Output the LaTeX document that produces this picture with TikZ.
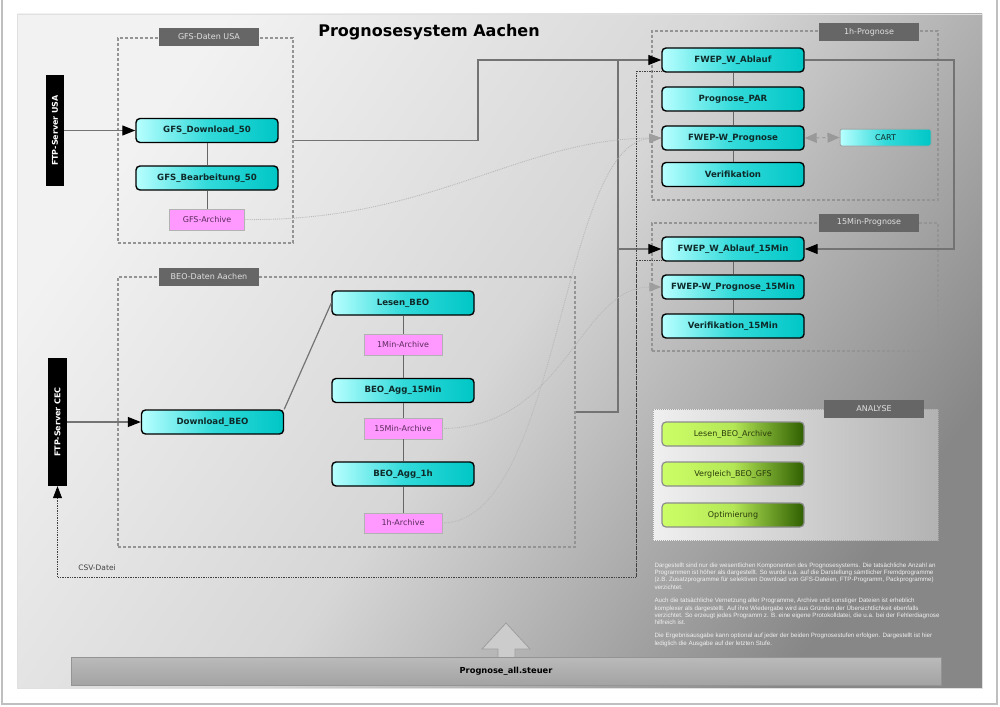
\documentclass[tikz,border=0pt]{standalone}
\usepackage{fontspec}
\setmainfont{DejaVu Sans}
\newfontfamily\notefont{Liberation Sans}
\usepackage{tikz}
\usetikzlibrary{arrows.meta}
\usetikzlibrary{positioning}
\definecolor{cyanhi}{HTML}{B8FFFF}
\definecolor{cyanmid}{HTML}{33DADA}
\definecolor{cyanlo}{HTML}{00C6C6}
\definecolor{greenhi}{HTML}{CCFF66}
\definecolor{greenlo}{HTML}{2F5F00}
\definecolor{pinkbox}{HTML}{FF99FF}
\definecolor{tabgray}{HTML}{666666}
\definecolor{progtext}{HTML}{0F2A2A}
\definecolor{archtext}{HTML}{5A2A5A}
\definecolor{anatext}{HTML}{2B3B0B}
\tikzstyle{prog}=[draw=black,line width=1.4pt,rounded corners=4pt,left color=cyanhi,right color=cyanlo,middle color=cyanmid,minimum width=142pt,minimum height=24pt,inner sep=0pt,text=progtext,font=\bfseries\fontsize{8.6}{10}\selectfont]
\tikzstyle{archive}=[draw=black!30,fill=pinkbox,minimum width=78pt,minimum height=21pt,inner sep=0pt,text=archtext,font=\fontsize{8}{9}\selectfont]
\tikzstyle{cart}=[draw=black!35,line width=1pt,rounded corners=2pt,left color=cyanhi,right color=cyanlo,middle color=cyanmid,minimum width=91pt,minimum height=17pt,inner sep=0pt,text=progtext,font=\fontsize{8}{9}\selectfont]
\tikzstyle{ana}=[draw=black!45,line width=1.2pt,rounded corners=4pt,left color=greenhi,right color=greenlo,middle color=greenhi!85!greenlo,minimum width=142pt,minimum height=24pt,inner sep=0pt,text=anatext,font=\fontsize{8}{9}\selectfont]
\tikzstyle{server}=[fill=black,inner sep=0pt,text=white,font=\bfseries\fontsize{8}{9}\selectfont]
\tikzstyle{grp}=[draw=black!42,line width=1.3pt,dash pattern=on 3pt off 2pt,inner sep=0pt]
\tikzstyle{anabox}=[draw=black!35,line width=1pt,densely dotted,left color=black!6,right color=black!30,inner sep=0pt]
\tikzstyle{tab}=[fill=tabgray,minimum width=100pt,minimum height=18pt,inner sep=0pt,text=black!12,font=\fontsize{8}{9}\selectfont]
\tikzstyle{bar}=[draw=black!42,line width=0.8pt,top color=black!27,bottom color=black!36,minimum width=870pt,minimum height=28pt,inner sep=0pt,font=\bfseries\fontsize{8.3}{10}\selectfont]

\begin{document}
\begin{tikzpicture}
		[x=1pt,y=-1pt,
		flow/.style={draw=black!55,line width=1.2pt,-{Triangle[length=13pt,width=10pt,color=black]}},
		pipe/.style={draw=black!55,line width=1.2pt},
		link/.style={draw=black!60,line width=1pt},
		csv/.style={draw=black!75,line width=0.7pt,densely dotted,-{Triangle[length=12pt,width=9pt,color=black]}},
		feed/.style={draw=black!28,line width=0.9pt,densely dotted,-{Triangle[length=12pt,width=9pt,color=black!38]}},
		biarrow/.style={draw=black!40,line width=1pt,dashed,{Triangle[length=12pt,width=10pt,color=black!40]}-{Triangle[length=12pt,width=10pt,color=black!40]}}]
		\useasboundingbox (0,0) rectangle (1000,706);
		\fill[white] (0,0) rectangle (1000,706);
		\draw[black!25,line width=2.5pt] (2,0) -- (2,704) -- (997,704) -- (997,0);
		\shade[top color=black!5,bottom color=black!47,middle color=black!16,shading angle=55] (17,14) rectangle (982,688);
		\draw[black!12] (17,14) rectangle (982,688);
		
		\node[font=\bfseries\fontsize{16}{18}\selectfont] (title) at (429,32) {Prognosesystem Aachen};
		
		\node[grp,minimum width=175pt,minimum height=205pt] (gfsgrp) at (205.5,140.5) {};
		\node[grp,minimum width=457pt,minimum height=270pt] (beogrp) at (346.5,412) {};
		\node[grp,minimum width=286pt,minimum height=169pt] (grp1h) at (795,115.5) {};
		\node[grp,minimum width=286pt,minimum height=128pt] (grp15) at (795,287) {};
		\node[anabox,minimum width=285pt,minimum height=131pt] (anagrp) at (795.5,474.5) {};
		\node[tab] (gfstab) at (209,37) {GFS-Daten USA};
		\node[tab] (beotab) at (209,276.5) {BEO-Daten Aachen};
		\node[tab] (tab1h) at (869,32) {1h-Prognose};
		\node[tab] (tab15) at (869,222.5) {15Min-Prognose};
		\node[tab] (anatab) at (874,409) {ANALYSE};
		
		\node[server,rotate=90,minimum width=111pt,minimum height=18pt] (ftpusa) at (55,130.5) {FTP-Server USA};
		\node[server,rotate=90,minimum width=128pt,minimum height=19pt] (ftpcec) at (57.5,422) {FTP-Server CEC};
		
		\node[prog] (gfsdl) at (207,130.5) {GFS\_Download\_50};
		\node[prog] (gfsbe) at (207,178) {GFS\_Bearbeitung\_50};
		\node[archive,minimum width=75pt] (gfsar) at (207,219.5) {GFS-Archive};
		\node[prog] (dlbeo) at (212.5,422) {Download\_BEO};
		\node[prog] (lesen) at (403,303) {Lesen\_BEO};
		\node[archive] (ar1min) at (403,344.5) {1Min-Archive};
		\node[prog] (agg15) at (403,390.5) {BEO\_Agg\_15Min};
		\node[archive] (ar15) at (403,428.5) {15Min-Archive};
		\node[prog] (agg1h) at (403,474) {BEO\_Agg\_1h};
		\node[archive,minimum height=20pt] (ar1h) at (403,523) {1h-Archive};
		
		\node[prog] (abl1h) at (733,60) {FWEP\_W\_Ablauf};
		\node[prog] (par) at (733,99) {Prognose\_PAR};
		\node[prog] (prg1h) at (733,138) {FWEP-W\_Prognose};
		\node[prog] (ver1h) at (733,174.5) {Verifikation};
		\node[cart] (cart) at (885.5,137.5) {CART};
		\node[prog] (abl15) at (733,249) {FWEP\_W\_Ablauf\_15Min};
		\node[prog] (prg15) at (733,287) {FWEP-W\_Prognose\_15Min};
		\node[prog] (ver15) at (733,326) {Verifikation\_15Min};
		
		\node[ana] (lba) at (733,434) {Lesen\_BEO\_Archive};
		\node[ana] (vbg) at (733,474) {Vergleich\_BEO\_GFS};
		\node[ana] (opt) at (733,515) {Optimierung};
		
		\node[anchor=north west,align=left,text=white!94!black,font=\notefont\fontsize{6.2}{7.4}\selectfont] (note) at (651,559) {Dargestellt sind nur die wesentlichen Komponenten des Prognosesystems. Die tatsächliche Anzahl an\\ Programmen ist höher als dargestellt. So wurde u.a. auf die Darstellung sämtlicher Fremdprogramme\\ (z.B. Zusatzprogramme für selektiven Download von GFS-Dateien, FTP-Programm, Packprogramme)\\ verzichtet.\\[6pt] Auch die tatsächliche Vernetzung aller Programme, Archive und sonstiger Dateien ist erheblich\\ komplexer als dargestellt. Auf ihre Wiedergabe wird aus Gründen der Übersichtlichkeit ebenfalls\\ verzichtet. So erzeugt jedes Programm z. B. eine eigene Protokolldatei, die u.a. bei der Fehlerdiagnose\\ hilfreich ist.\\[5.6pt] Die Ergebnisausgabe kann optional auf jeder der beiden Prognosestufen erfolgen. Dargestellt ist hier\\ lediglich die Ausgabe auf der letzten Stufe.};
		
		\filldraw[fill=black!20,draw=black!38,line width=0.8pt] (498,657) -- (498,649) -- (482,649) -- (506,623) -- (530,649) -- (515,649) -- (515,657);
		\node[bar] (steuer) at (506,671) {Prognose\_all.steuer};
		
		\coordinate (jgfs) at (478,60);
		\coordinate (jbeo) at (618,60);
		\coordinate (j15) at (618,249);
		\coordinate (jback) at (954,249);
		\coordinate (jcsv) at (636,577);
		
		\draw[flow] (ftpusa.south) -- (gfsdl.west);
		\draw[flow] (ftpcec.south) -- (dlbeo.west);
		\draw[link] (gfsdl) -- (gfsbe) -- (gfsar);
		\draw[pipe] (dlbeo.north east) -- (lesen.west);
		\draw[link] (lesen) -- (ar1min) -- (agg15) -- (ar15) -- (agg1h) -- (ar1h);
		\draw[link] (abl1h) -- (par) -- (prg1h) -- (ver1h);
		\draw[link] (abl15) -- (prg15) -- (ver15);
		\draw[flow] (gfsgrp.east) -| (jgfs) -- (abl1h.west);
		\draw[pipe] (beogrp.east) -| (jbeo);
		\draw[flow] (j15) -- (abl15.west);
		\draw[flow] (abl1h.east) -| (jback) -- (abl15.east);
		\draw[csv] ([yshift=-11pt]abl1h.west) -| (jcsv) -| (ftpcec.west);
		\draw[csv,-] ([yshift=-11pt]abl15.west) -| (jcsv);
		\node[font=\fontsize{7.5}{9}\selectfont,text=black!75] (csvlbl) at (97,568) {CSV-Datei};
		
		\draw[feed] (gfsar.east) .. controls (430,222) and (520,139) .. (prg1h.west);
		\draw[feed] (ar1h.east) .. controls (560,523) and (560,143) .. (prg1h.west);
		\draw[feed] (ar15.east) .. controls (565,428) and (580,287) .. (prg15.west);
		\draw[biarrow] (prg1h.east) -- (cart.west);
		
		\end{tikzpicture}
\end{document}
